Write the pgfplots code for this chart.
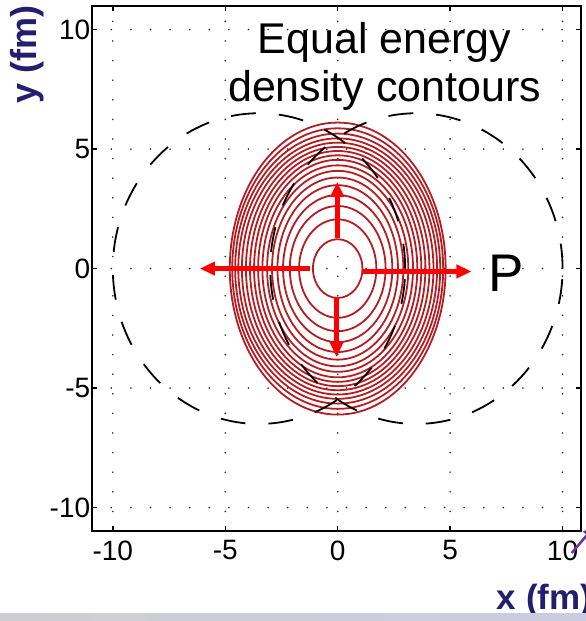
\documentclass[border=0pt]{standalone}
\usepackage{pgfplots}
\pgfplotsset{compat=1.18}
\usepackage{fontspec}
\setmainfont{Liberation Sans}
\usetikzlibrary{arrows.meta}

\definecolor{contourred}{RGB}{180,30,35}
\definecolor{labelnavy}{RGB}{35,31,110}
\definecolor{flowred}{RGB}{255,0,0}
\definecolor{slidepurple}{RGB}{112,48,160}
\definecolor{bandleft}{RGB}{206,206,208}
\definecolor{bandright}{RGB}{204,204,224}

\begin{document}
\begin{tikzpicture}
\useasboundingbox (-91.7pt,-90pt) rectangle (494.3pt,531pt);
\begin{axis}[
  at={(0pt,0pt)}, anchor=south west,
  scale only axis,
  width=489.3pt, height=525.3pt,
  xmin=-10.94, xmax=10.82,
  ymin=-10.98, ymax=11,
  xtick={-10,-5,0,5,10},
  ytick={-10,-5,0,5,10},
  tick align=inside,
  major tick length=5pt,
  axis line style={black, line width=2pt},
  every tick/.style={black, line width=1.5pt},
  grid=major,
  major grid style={black!85, line width=1.8pt, line cap=round,
                    dash pattern=on 0pt off 19.6pt},
  tick label style={font=\fontsize{28}{28}\selectfont},
  xticklabel style={yshift=-6pt},
  yticklabel style={xshift=2pt},
  /pgf/number format/assume math mode=true,
  clip=false,
]

% equal energy density contours (semi-axes in fm)
\begin{scope}[contourred, line width=1.8pt]
\draw (axis cs:0,0) ellipse [x radius=1.10, y radius=1.23];
\draw (axis cs:0,0) ellipse [x radius=1.72, y radius=2.06];
\draw (axis cs:0,0) ellipse [x radius=2.13, y radius=2.62];
\draw (axis cs:0,0) ellipse [x radius=2.43, y radius=3.08];
\draw (axis cs:0,0) ellipse [x radius=2.68, y radius=3.49];
\draw (axis cs:0,0) ellipse [x radius=2.92, y radius=3.81];
\draw (axis cs:0,0) ellipse [x radius=3.14, y radius=4.09];
\draw (axis cs:0,0) ellipse [x radius=3.35, y radius=4.32];
\draw (axis cs:0,0) ellipse [x radius=3.54, y radius=4.55];
\draw (axis cs:0,0) ellipse [x radius=3.72, y radius=4.74];
\draw (axis cs:0,0) ellipse [x radius=3.90, y radius=4.92];
\draw (axis cs:0,0) ellipse [x radius=4.08, y radius=5.09];
\draw (axis cs:0,0) ellipse [x radius=4.26, y radius=5.27];
\draw (axis cs:0,0) ellipse [x radius=4.42, y radius=5.45];
\draw (axis cs:0,0) ellipse [x radius=4.56, y radius=5.65];
\draw (axis cs:0,0) ellipse [x radius=4.69, y radius=5.87];
\draw (axis cs:0,0) ellipse [x radius=4.80, y radius=6.11];
\end{scope}

% the two colliding nuclei, R = 6.5 fm, b = 7 fm
\begin{scope}[black, line width=1.8pt, dash pattern=on 25pt off 23pt]
\draw (axis cs:-3.5,0) ellipse [x radius=6.5, y radius=6.5];
\draw (axis cs:3.5,0) ellipse [x radius=6.5, y radius=6.5];
\end{scope}

% pressure-gradient arrows
\addplot[flowred, line width=5pt, -{Triangle[length=15pt,width=13pt]}]
  coordinates {(-1.24,0) (-6.13,0)};
\addplot[flowred, line width=5pt, -{Triangle[length=15pt,width=13pt]}]
  coordinates {(1.06,-0.12) (5.95,-0.12)};
\addplot[flowred, line width=5pt, -{Triangle[length=15pt,width=13pt]}]
  coordinates {(-0.02,1.29) (-0.02,3.63)};
\addplot[flowred, line width=5pt, -{Triangle[length=15pt,width=13pt]}]
  coordinates {(-0.05,-1.18) (-0.05,-3.70)};

% annotations
\node[anchor=base, font=\fontsize{43}{43}\selectfont, inner sep=0pt]
  at (axis cs:2.09,9.02) {Equal energy};
\node[anchor=base, font=\fontsize{43}{43}\selectfont, inner sep=0pt]
  at (axis cs:2.09,7.00) {density contours};
\node[anchor=base, font=\fontsize{53}{53}\selectfont, inner sep=0pt]
  at (axis cs:7.51,-0.97) {P};

% axis labels
\node[rotate=90, font=\fontsize{36}{36}\selectfont\bfseries, text=labelnavy, inner sep=0pt]
  at (axis cs:-13.82,8.95) {y (fm)};
\node[anchor=base west, font=\fontsize{35}{35}\selectfont\bfseries, text=labelnavy, inner sep=0pt]
  at (axis cs:7.07,-14.27) {x (fm)};
\end{axis}

% slide footer band and pointer
\fill[left color=bandleft, right color=bandright] (-91.7pt,-90pt) rectangle (494.3pt,-82pt);
\draw[slidepurple, line width=2.5pt, -{Triangle[length=12pt,width=10pt]}]
  (480pt,-22pt) -- (503pt,5pt);
\end{tikzpicture}
\end{document}
